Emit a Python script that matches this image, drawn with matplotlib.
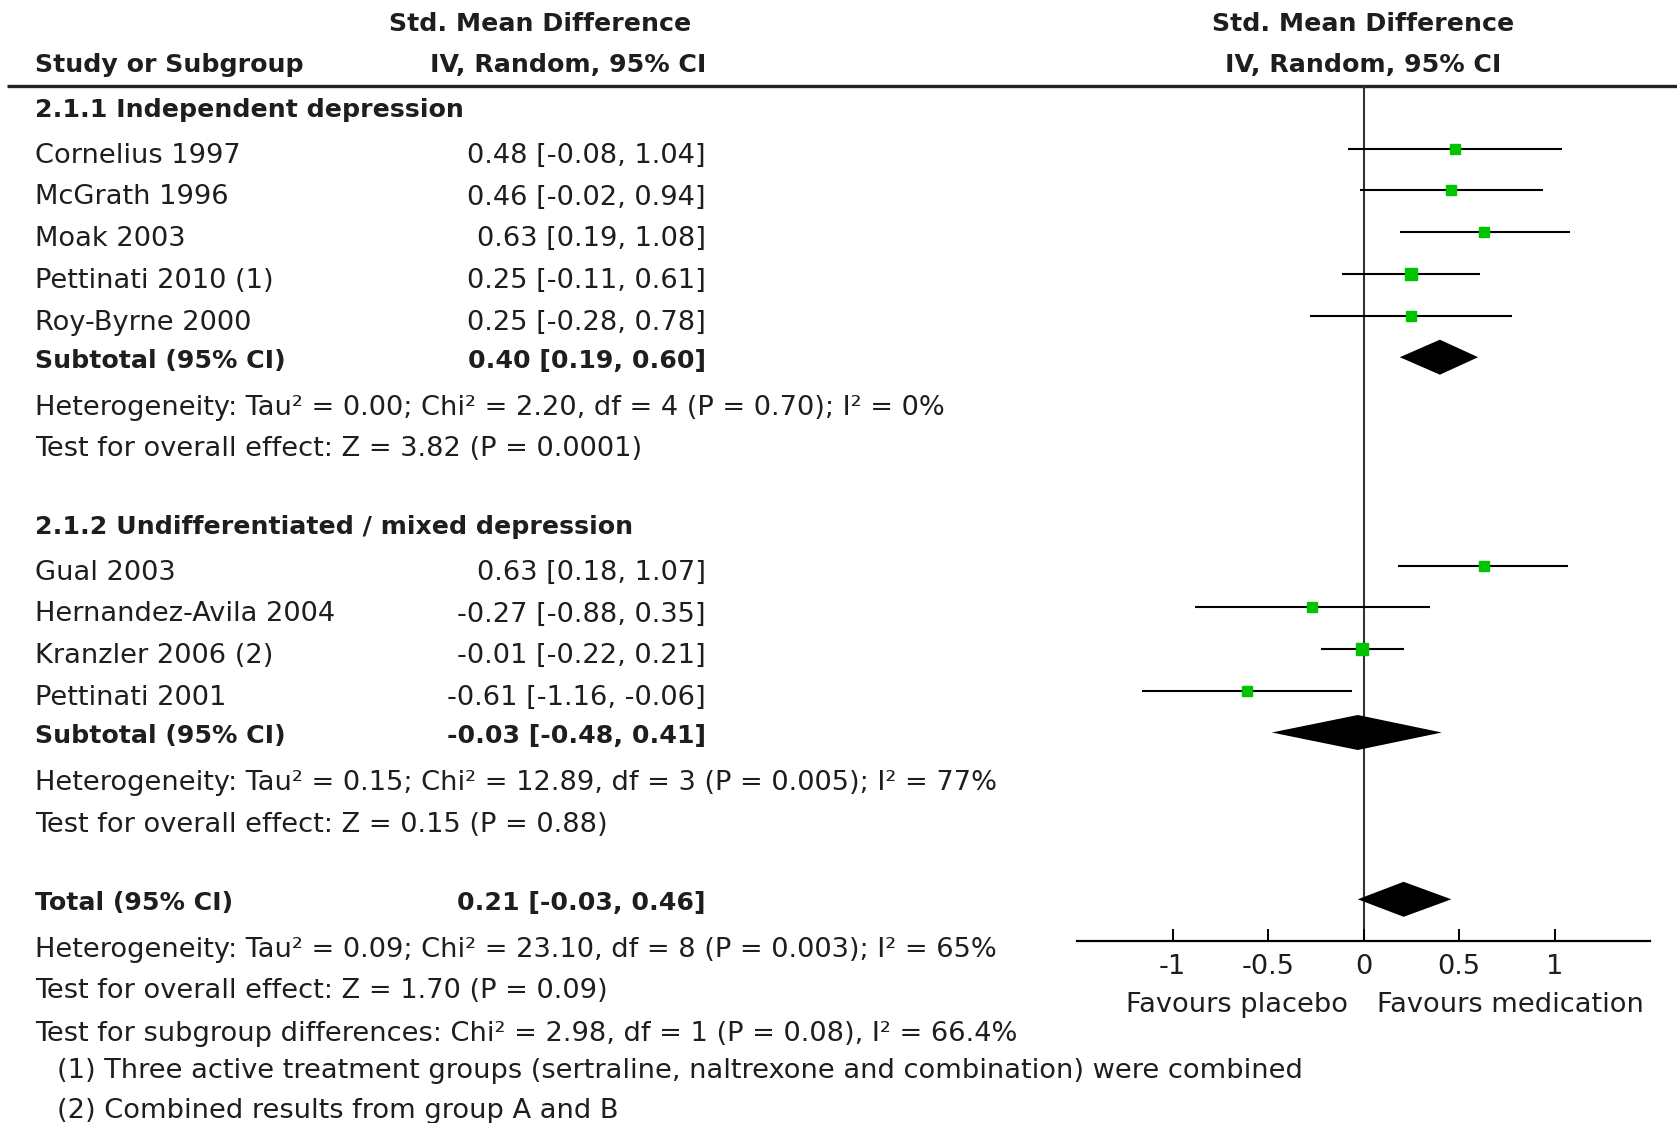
import numpy as np
import matplotlib.pyplot as plt

plt.rcParams['font.family'] = 'DejaVu Sans'
plt.rcParams['axes.unicode_minus'] = False

# Study data, subgroup 2.1.1
g1_title = '2.1.1 Independent depression'
g1_names = ['Cornelius 1997', 'McGrath 1996', 'Moak 2003',
            'Pettinati 2010 (1)', 'Roy-Byrne 2000']
g1_smd = [0.48, 0.46, 0.63, 0.25, 0.25]
g1_lo = [-0.08, -0.02, 0.19, -0.11, -0.28]
g1_hi = [1.04, 0.94, 1.08, 0.61, 0.78]
g1_weight = [11.5, 11.6, 11.8, 12.0, 11.4]
g1_sub = [0.40, 0.19, 0.60]
g1_het = 'Heterogeneity: Tau² = 0.00; Chi² = 2.20, df = 4 (P = 0.70); I² = 0%'
g1_test = 'Test for overall effect: Z = 3.82 (P = 0.0001)'

# Study data, subgroup 2.1.2
g2_title = '2.1.2 Undifferentiated / mixed depression'
g2_names = ['Gual 2003', 'Hernandez-Avila 2004', 'Kranzler 2006 (2)',
            'Pettinati 2001']
g2_smd = [0.63, -0.27, -0.01, -0.61]
g2_lo = [0.18, -0.88, -0.22, -1.16]
g2_hi = [1.07, 0.35, 0.21, -0.06]
g2_weight = [10.0, 8.0, 16.5, 11.5]
g2_sub = [-0.03, -0.48, 0.41]
g2_het = 'Heterogeneity: Tau² = 0.15; Chi² = 12.89, df = 3 (P = 0.005); I² = 77%'
g2_test = 'Test for overall effect: Z = 0.15 (P = 0.88)'

# Overall
total = [0.21, -0.03, 0.46]
tot_het = 'Heterogeneity: Tau² = 0.09; Chi² = 23.10, df = 8 (P = 0.003); I² = 65%'
tot_test = 'Test for overall effect: Z = 1.70 (P = 0.09)'
tot_sub = 'Test for subgroup differences: Chi² = 2.98, df = 1 (P = 0.08), I² = 66.4%'
footnotes = ['(1) Three active treatment groups (sertraline, naltrexone and combination) were combined',
             '(2) Combined results from group A and B']

ticks = [-1, -0.5, 0, 0.5, 1]
tick_labels = ['-1', '-0.5', '0', '0.5', '1']
fav_left = 'Favours placebo'
fav_right = 'Favours medication'

# Layout (pixels of a 1677x1123 image, rows of 41.7 px)
W, H = 1677, 1123
ROW = 41.7
TOP = 107
DY = 0.08          # text sits a little below the marks
DY_STUDY = 0.17    # study rows a bit more
FS = 19.6
FSB = 18.2
TXT = '#1e1e1e'
GREEN = '#00c400'
X_NAME, X_CI, X_NOTE, X_HEAD = 35, 706, 57, 540

fig = plt.figure(figsize=(W / 100, H / 100), dpi=100)
ylim = ((H - TOP) / ROW, -TOP / ROW)

tx = fig.add_axes([0, 0, 1, 1])
tx.set_xlim(0, W)
tx.set_ylim(*ylim)
tx.axis('off')

fx = fig.add_axes([1077 / W, 0, (1650 - 1077) / W, 1])
fx.set_xlim(-1.5, 1.5)
fx.set_ylim(*ylim)
fx.patch.set_visible(False)
for s in ['top', 'left', 'right']:
    fx.spines[s].set_visible(False)
fx.spines['bottom'].set_position(('data', 20))
fx.spines['bottom'].set_linewidth(1.6)
fx.set_yticks([])
fx.set_xticks(ticks)
fx.set_xticklabels(tick_labels)
fx.tick_params(axis='x', direction='in', length=9, width=1.4, pad=9,
               labelsize=FS, labelcolor=TXT)


def ci_text(est, lo, hi):
    return '%.2f [%.2f, %.2f]' % (est, lo, hi)


def put(y, left, right=None, bold=False, x=X_NAME, dy=DY):
    w = 'bold' if bold else 'normal'
    fs = FSB if bold else FS
    tx.text(x, y + dy, left, ha='left', va='center', fontsize=fs,
            fontweight=w, color=TXT)
    if right is not None:
        tx.text(X_CI, y + dy, right, ha='right', va='center', fontsize=fs,
                fontweight=w, color=TXT)


def diamond(y, est, lo, hi):
    h = 17.5 / ROW
    fx.fill([lo, est, hi, est], [y, y - h, y, y + h], color='black', lw=0)


def group(y0, title, names, smd, lo, hi, weight, sub, het, test):
    put(y0, title, bold=True)
    for i in range(len(names)):
        y = y0 + 1 + i
        put(y, names[i], ci_text(smd[i], lo[i], hi[i]), dy=DY_STUDY)
        fx.hlines(y, lo[i], hi[i], color='black', lw=1.5)
        side = 3.2 * np.sqrt(weight[i])
        fx.plot(smd[i], y, marker='s', ms=side * 0.72, color=GREEN,
                mec=GREEN, ls='none', zorder=3)
    ys = y0 + 1 + len(names)
    put(ys, 'Subtotal (95% CI)', ci_text(*sub), bold=True)
    diamond(ys, *sub)
    put(ys + 1.13, het)
    put(ys + 2.13, test)


# Headers
tx.text(X_HEAD, -2, 'Std. Mean Difference', ha='center', va='center',
        fontsize=FSB, fontweight='bold', color=TXT)
tx.text(X_CI, -1, 'IV, Random, 95% CI', ha='right', va='center',
        fontsize=FSB, fontweight='bold', color=TXT)
tx.text(X_NAME, -1, 'Study or Subgroup', ha='left', va='center',
        fontsize=FSB, fontweight='bold', color=TXT)
fx.text(0, -2, 'Std. Mean Difference', ha='center', va='center',
        fontsize=FSB, fontweight='bold', color=TXT)
fx.text(0, -1, 'IV, Random, 95% CI', ha='center', va='center',
        fontsize=FSB, fontweight='bold', color=TXT)
tx.hlines(-0.515, 7, W, color='#222222', lw=2.4)

# Zero line
fx.vlines(0, -0.515, 20, color='#333333', lw=1.5, zorder=1)

group(0, g1_title, g1_names, g1_smd, g1_lo, g1_hi, g1_weight, g1_sub,
      g1_het, g1_test)
group(10, g2_title, g2_names, g2_smd, g2_lo, g2_hi, g2_weight, g2_sub,
      g2_het, g2_test)

# Total
put(19, 'Total (95% CI)', ci_text(*total), bold=True)
diamond(19, *total)
put(20.13, tot_het)
put(21.13, tot_test)
put(22.15, tot_sub)
put(23.03, footnotes[0], x=X_NOTE)
put(24.0, footnotes[1], x=X_NOTE)

fx.text(-0.08, 21.54, fav_left, ha='right', va='center', fontsize=FS,
        color=TXT)
fx.text(0.07, 21.54, fav_right, ha='left', va='center', fontsize=FS,
        color=TXT)

fig.savefig('out.png', dpi=100)
